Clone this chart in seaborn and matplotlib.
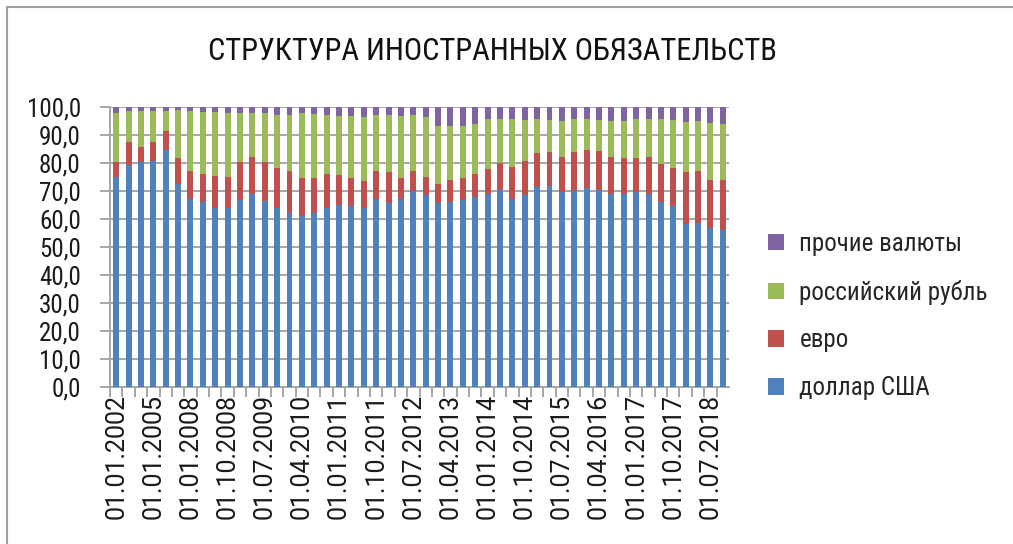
import matplotlib
matplotlib.use("Agg")
import matplotlib.pyplot as plt
import seaborn as sns
import pandas as pd
import numpy as np
from matplotlib import font_manager as fm
from matplotlib.patches import Patch
from matplotlib.lines import Line2D

# ---------------- data ----------------
dates = [
    "01.01.2002", "01.01.2003", "01.01.2004", "01.01.2005", "01.01.2006", "01.01.2007",
    "01.01.2008", "01.04.2008", "01.07.2008", "01.10.2008",
    "01.01.2009", "01.04.2009", "01.07.2009", "01.10.2009",
    "01.01.2010", "01.04.2010", "01.07.2010", "01.10.2010",
    "01.01.2011", "01.04.2011", "01.07.2011", "01.10.2011",
    "01.01.2012", "01.04.2012", "01.07.2012", "01.10.2012",
    "01.01.2013", "01.04.2013", "01.07.2013", "01.10.2013",
    "01.01.2014", "01.04.2014", "01.07.2014", "01.10.2014",
    "01.01.2015", "01.04.2015", "01.07.2015", "01.10.2015",
    "01.01.2016", "01.04.2016", "01.07.2016", "01.10.2016",
    "01.01.2017", "01.04.2017", "01.07.2017", "01.10.2017",
    "01.01.2018", "01.04.2018", "01.07.2018", "01.10.2018",
]
usd = [75.1, 79.3, 80.3, 80.6, 84.7, 72.6, 67.0, 66.0, 63.9, 63.9,
       66.7, 69.1, 66.5, 63.8, 62.0, 61.2, 62.0, 64.1, 65.1, 64.6,
       64.1, 67.3, 65.8, 67.0, 70.0, 68.4, 65.6, 66.0, 66.7, 67.7,
       68.8, 70.3, 67.2, 68.5, 71.3, 71.9, 69.7, 70.0, 70.9, 70.5,
       69.1, 69.1, 69.7, 69.1, 66.2, 64.6, 58.1, 58.4, 56.7, 56.2]
eur = [5.1, 8.2, 5.3, 6.9, 6.9, 9.2, 10.3, 10.1, 11.5, 11.2,
       13.5, 13.1, 13.7, 14.5, 15.1, 13.6, 12.7, 12.0, 10.7, 10.0,
       9.5, 9.8, 10.9, 7.7, 7.1, 6.7, 7.0, 7.9, 8.0, 8.4,
       9.1, 9.7, 11.2, 12.2, 12.3, 12.1, 12.5, 14.0, 13.7, 13.8,
       13.1, 12.7, 12.1, 13.0, 13.5, 13.7, 18.7, 18.9, 17.3, 17.8]
rub = [17.8, 11.2, 12.9, 11.1, 7.1, 17.1, 21.2, 22.1, 22.8, 22.9,
       17.5, 15.5, 17.5, 19.0, 19.9, 22.9, 22.8, 20.9, 21.0, 22.1,
       22.7, 19.9, 20.3, 22.2, 20.2, 21.2, 20.5, 19.4, 18.6, 17.7,
       17.9, 15.6, 17.2, 14.5, 12.0, 11.2, 12.7, 11.6, 11.0, 10.9,
       12.7, 13.1, 13.8, 13.5, 15.9, 16.9, 17.7, 17.6, 20.3, 19.8]
other = [2.0, 1.3, 1.5, 1.4, 1.3, 1.1, 1.5, 1.8, 1.8, 2.0,
         2.3, 2.3, 2.3, 2.7, 3.0, 2.3, 2.5, 3.0, 3.2, 3.3,
         3.7, 3.0, 3.0, 3.1, 2.7, 3.7, 6.9, 6.7, 6.7, 6.2,
         4.2, 4.4, 4.4, 4.8, 4.4, 4.8, 5.1, 4.4, 4.4, 4.8,
         5.1, 5.1, 4.4, 4.4, 4.4, 4.8, 5.5, 5.1, 5.7, 6.2]
series_names = ["доллар США", "евро", "российский рубль", "прочие валюты"]
series_colors = ["#4F81BD", "#C0504D", "#9BBB59", "#8064A2"]
y_ticks = [0, 10, 20, 30, 40, 50, 60, 70, 80, 90, 100]
title = "СТРУКТУРА ИНОСТРАННЫХ ОБЯЗАТЕЛЬСТВ"

# ---------------- fonts ----------------
names = {f.name for f in fm.fontManager.ttflist}
cond = None
for n in ["Roboto Condensed", "Liberation Sans Narrow", "Open Sans Condensed", "Noto Sans Condensed"]:
    if n in names:
        cond = n
        break
if cond is not None:
    cond_fp = lambda size: fm.FontProperties(family=[cond, "DejaVu Sans"], size=size)
else:
    cond_fp = lambda size: fm.FontProperties(family="DejaVu Sans", stretch="condensed", size=size)
reg_family = "Roboto" if "Roboto" in names else "Liberation Sans"

sns.set_theme(style="white")
plt.rcParams["font.family"] = [reg_family, "DejaVu Sans"]

# ---------------- frame ----------------
df = pd.DataFrame({"date": dates, "usd": usd, "eur": eur, "rub": rub, "other": other})
df["c1"] = df["usd"]
df["c2"] = df["c1"] + df["eur"]
df["c3"] = df["c2"] + df["rub"]
df["c4"] = df["c3"] + df["other"]

fig = plt.figure(figsize=(10.13, 5.44), dpi=100)
ax = fig.add_axes([110 / 1013, 1 - 387 / 544, (729 - 110) / 1013, (387 - 107) / 544])

for col, color in zip(["c4", "c3", "c2", "c1"], series_colors[::-1]):
    sns.barplot(data=df, x="date", y=col, color=color, width=0.48, ax=ax,
                saturation=1, linewidth=0, zorder=3)

grid_c = "#A6A6A6"
ax.set_ylim(0, 100)
ax.set_xlim(-0.5, len(dates) - 0.5)
ax.set_yticks(y_ticks)
ax.set_yticklabels([f"{v:.1f}".replace(".", ",") for v in y_ticks],
                   fontproperties=cond_fp(18), color="#1a1a1a")
ax.yaxis.grid(True, color=grid_c, linewidth=1.4, zorder=0)
ax.set_axisbelow(True)

pos = np.arange(len(dates))
ax.set_xticks(pos[::3])
ax.set_xticklabels(dates[::3], rotation=90, fontsize=18, color="#1a1a1a")
ax.set_xticks(pos - 0.5, minor=True)
ax.tick_params(axis="x", which="major", length=0, pad=5)
ax.tick_params(axis="x", which="minor", length=7, width=1.4, color=grid_c, direction="out", bottom=True)
ax.tick_params(axis="y", which="major", length=7, width=1.4, color=grid_c, direction="out", left=True, pad=14)
ax.set_xlabel("")
ax.set_ylabel("")
for s in ["top", "right"]:
    ax.spines[s].set_visible(False)
for s in ["left", "bottom"]:
    ax.spines[s].set_color(grid_c)
    ax.spines[s].set_linewidth(1.4)

fig.text(492 / 1013, 1 - 52 / 544, title, ha="center", va="center",
         fontproperties=cond_fp(22), color="#111111")

handles = [Patch(facecolor=c, edgecolor="none") for c in series_colors[::-1]]
fig.legend(handles, series_names[::-1], loc="center left",
           bbox_to_anchor=(768 / 1013, 1 - 316 / 544), frameon=False,
           prop=cond_fp(18), handlelength=0.65, handleheight=0.65,
           handletextpad=0.6, labelspacing=0.95, borderpad=0, borderaxespad=0)

# outer border (left and top)
fig.add_artist(Line2D([7 / 1013, 7 / 1013], [0, 1 - 7 / 544], transform=fig.transFigure,
                      color="#A0A0A0", linewidth=1.5))
fig.add_artist(Line2D([7 / 1013, 1], [1 - 7 / 544, 1 - 7 / 544], transform=fig.transFigure,
                      color="#A0A0A0", linewidth=1.5))

fig.savefig("out.png", dpi=100)
